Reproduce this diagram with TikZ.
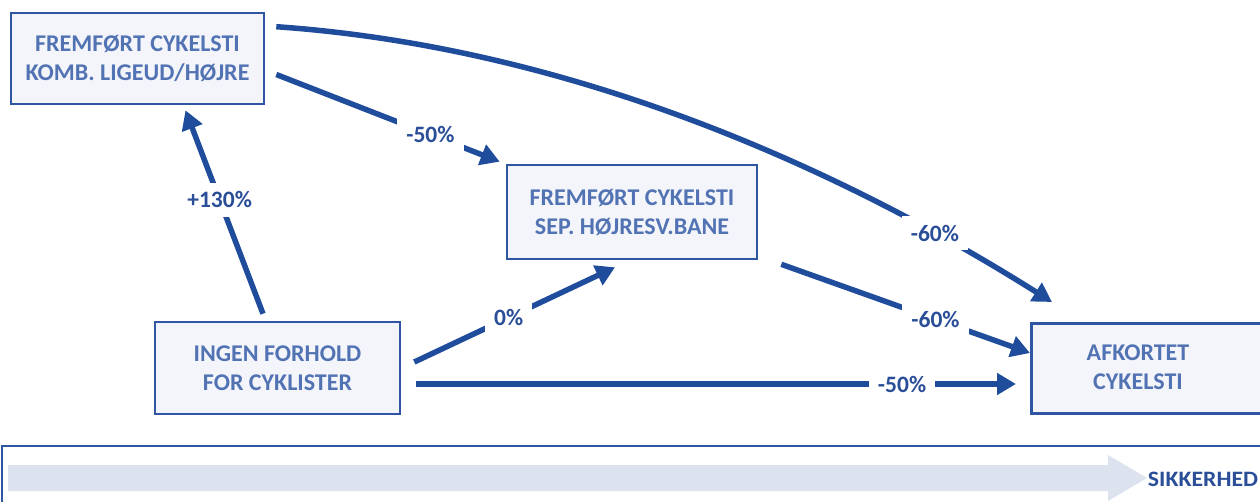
\documentclass[tikz,border=0pt]{standalone}
\usepackage{fontspec}
\setmainfont{Carlito}
\usetikzlibrary{arrows.meta,calc}
\definecolor{boxline}{HTML}{2E56A2}
\definecolor{boxfill}{HTML}{F3F5FA}
\definecolor{boxtext}{HTML}{5273B3}
\definecolor{arrowc}{HTML}{1F4D9C}
\definecolor{labelc}{HTML}{2A4E98}
\definecolor{bandc}{HTML}{DCE3EF}
\tikzset{
  box/.style={draw=boxline, line width=2.6pt, fill=boxfill, text=boxtext,
    font=\fontsize{24}{29}\selectfont\bfseries, align=center, inner sep=0pt},
  conn/.style={draw=arrowc, line width=5.5pt, -{Triangle[length=19pt,width=21pt]}},
  lbl/.style={fill=white, text=labelc, font=\fontsize{23.5}{26}\selectfont\bfseries, inner sep=9pt}
}
\begin{document}
\begin{tikzpicture}[x=1pt,y=-1pt]
\useasboundingbox (0,0) rectangle (1260,501);
% boxes
\node[box, minimum width=253pt, minimum height=91pt] (a) at (137.5,58.5) {FREMFØRT CYKELSTI\\KOMB. LIGEUD/HØJRE};
\node[box, minimum width=250pt, minimum height=94pt] (b) at (632,212) {FREMFØRT CYKELSTI\\SEP. HØJRESV.BANE};
\node[box, minimum width=245pt, minimum height=92pt] (c) at (277.5,368) {INGEN FORHOLD\\FOR CYKLISTER};
\node[box, minimum width=240pt, minimum height=90pt, anchor=north west] (d) at (1030,322) {};
\node[text=boxtext, font=\fontsize{24}{29}\selectfont\bfseries, align=center, inner sep=0pt] (dt) at (1138,367) {AFKORTET\\CYKELSTI};
% endpoints
\coordinate (c1) at ($(c.north)+(-14.5,-7)$);
\coordinate (a1) at ($(a.south)+(48,5)$);
\coordinate (a2) at ($(a.east)+(11,16)$);
\coordinate (b2) at ($(b.north west)+(-6,-2)$);
\coordinate (a3) at ($(a.north east)+(11,15)$);
\coordinate (d3) at ($(d.north west)+(22,-20)$);
\coordinate (b4) at ($(b.south east)+(23,4)$);
\coordinate (d4) at ($(d.north west)+(0,31)$);
\coordinate (c5) at ($(c.east)+(13,-6)$);
\coordinate (b5) at ($(b.south)+(-17,7)$);
\coordinate (c6) at ($(c.east)+(15,16)$);
\coordinate (d6) at ($(d.north west)+(-14,62)$);
% connectors
\draw[conn] (c1) -- node[lbl, pos=0.56] {+130\%} (a1);
\draw[conn] (a2) -- node[lbl, pos=0.69] {-50\%} (b2);
\draw[conn] (a3) .. controls (610,50) and (890,200) .. node[lbl, pos=0.79] {-60\%} (d3);
\draw[conn] (b4) -- node[lbl, pos=0.62] {-60\%} (d4);
\draw[conn] (c5) -- node[lbl, pos=0.47] {0\%} (b5);
\draw[conn] (c6) -- node[lbl, pos=0.81] {-50\%} (d6);
% bottom panel
\draw[boxline, line width=2.6pt] (1262,446) -| (2,503);
\fill[bandc] (8,465) -- (1108,465) -- (1108,455) -- (1147,478) -- (1108,501) -- (1108,491) -- (8,491) -- cycle;
\node[text=labelc, font=\fontsize{22}{26}\selectfont\bfseries, inner sep=0pt] (s) at (1203,479) {\scalebox{1.08}[1]{SIKKERHED}};
\end{tikzpicture}
\end{document}
